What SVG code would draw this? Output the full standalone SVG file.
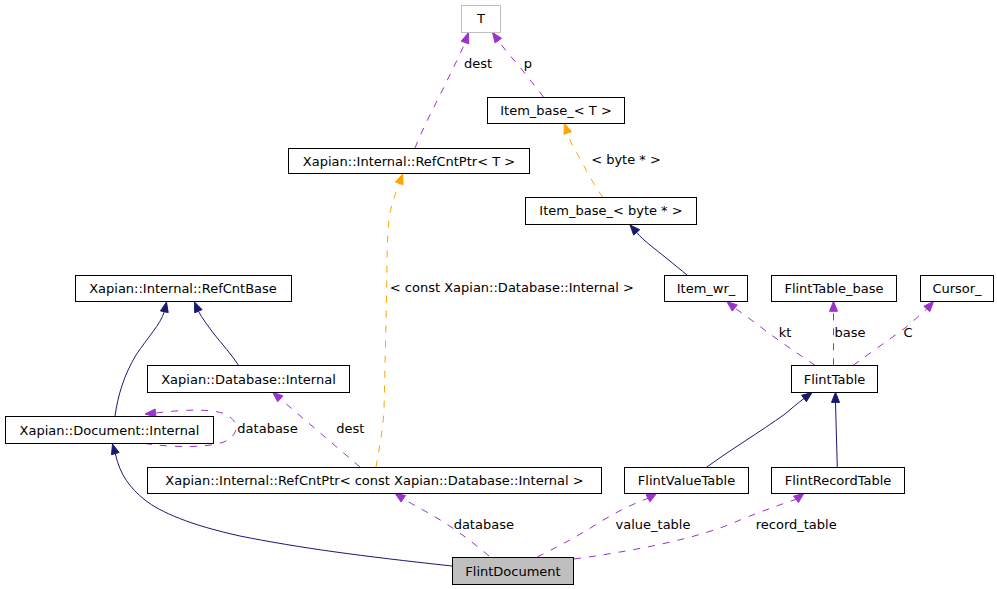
<svg xmlns="http://www.w3.org/2000/svg" width="997" height="589" viewBox="0 0 997 589">
<style>
.box{fill:#ffffff;stroke:#000000;stroke-width:1}
.gray{fill:#ffffff;stroke:#bfbfbf;stroke-width:1}
.cur{fill:#bfbfbf;stroke:#000000;stroke-width:1}
text{font-family:"DejaVu Sans","Liberation Sans",sans-serif;font-size:13px;fill:#000000;text-anchor:middle}
.inh{fill:none;stroke:#191970;stroke-width:1}
.use{fill:none;stroke:#9a32cd;stroke-width:1;stroke-dasharray:7,8}
.tpl{fill:none;stroke:#ffa500;stroke-width:1;stroke-dasharray:7,8}
.ahi{fill:#191970;stroke:#191970}
.ahu{fill:#9a32cd;stroke:#9a32cd}
.aht{fill:#ffa500;stroke:#ffa500}
</style>
<rect width="997" height="589" fill="#ffffff"/>
<g id="connectors">
<!-- Document::Internal -> RefCntBase -->
<path class="inh" d="M115,416 C118,395 124,375 136,355 C148,337 160,325 164.3,311.75"/>
<polygon class="ahi" points="166.5,302 168.2,312.6 160.4,310.9"/>
<!-- Database::Internal -> RefCntBase -->
<path class="inh" d="M239,366 C232,355 222,344 214,334 C208,326 202,318 198.4,311.2"/>
<polygon class="ahi" points="194.5,302 202.1,309.6 194.7,312.8"/>
<!-- FlintDocument -> Document::Internal -->
<path class="inh" d="M452,566 C360,556 300,548 240,536 C190,525 160,512 145,500 C130,488 120,475 115.3,453.6"/>
<polygon class="ahi" points="112.5,444 119.1,452.5 111.5,454.7"/>
<!-- self loop database -->
<path class="use" d="M145,443.5 C175,448 215,448 228,440 C240,432 238,420 225,414 C210,408 180,410 155.5,413"/>
<polygon class="ahu" points="145,414 155.9,417 155.1,409"/>
<text x="267.5" y="432.5">database</text>
<!-- RefCntPtr<const> -> Database::Internal dest -->
<path class="use" d="M360,467 L280.3,398.8"/>
<polygon class="ahu" points="272.7,392.3 282.9,395.8 277.7,401.8"/>
<text x="350.3" y="432.5">dest</text>
<!-- RefCntPtr<const> -> RefCntPtr<T> template -->
<path class="tpl" d="M376,467 C379,450 383,430 384,410 L386.5,300 C387,260 387,230 390,213 C392,203 395,195 399.3,183.4"/>
<polygon class="aht" points="402.7,174 403.1,184.8 395.5,182"/>
<text x="511.8" y="291.5">&lt; const Xapian::Database::Internal &gt;</text>
<!-- RefCntPtr<T> -> T dest -->
<path class="use" d="M415,148 C422,130 435,105 445,85 C453,68 460,55 465,42.5"/>
<polygon class="ahu" points="468.5,32.5 468.8,43.8 461.2,41.2"/>
<text x="478" y="67.5">dest</text>
<!-- Item_base_<T> -> T p -->
<path class="use" d="M543.5,97 C537,88 528,78 520,67 C512,58 505,50 498.3,40.6"/>
<polygon class="ahu" points="492.5,32.5 501.5,38.3 495.1,42.9"/>
<text x="528" y="67.5">p</text>
<!-- Item_base_<byte*> -> Item_base_<T> -->
<path class="tpl" d="M602.7,197.3 C596,187 588,175 582,162 C576,152 570,142 567.7,133"/>
<polygon class="aht" points="564.5,123.5 571.5,131.7 563.9,134.3"/>
<text x="626" y="164">&lt; byte * &gt;</text>
<!-- Item_wr_ -> Item_base_<byte*> -->
<path class="inh" d="M687.3,275.3 C675,265 660,253 650,245 C645,241 640,236.5 636.7,232.4"/>
<polygon class="ahi" points="630,225 639.7,229.7 633.7,235.1"/>
<!-- FlintTable -> Item_wr_ kt -->
<path class="use" d="M815,365.3 C800,355 785,345 770,334 C758,325 745,315 734.75,308"/>
<polygon class="ahu" points="727,301.7 737.3,304.9 732.2,311.1"/>
<text x="785" y="336.5">kt</text>
<!-- FlintTable -> FlintTable_base base -->
<path class="use" d="M833.5,365.3 L833.5,311.3"/>
<polygon class="ahu" points="833.5,301.3 837.5,311.3 829.5,311.3"/>
<text x="850" y="336.5">base</text>
<!-- FlintTable -> Cursor_ C -->
<path class="use" d="M853.3,365.3 C870,353 890,339 905,328 C913,321 920,315 926.8,308.9"/>
<polygon class="ahu" points="933.5,301.5 929.8,311.6 923.8,306.2"/>
<text x="908" y="336.5">C</text>
<!-- FlintValueTable -> FlintTable -->
<path class="inh" d="M706,467.7 C730,450 760,432 785,414 C792,408 798,403 804,398.5"/>
<polygon class="ahi" points="812,392.5 806.4,401.7 801.6,395.3"/>
<!-- FlintRecordTable -> FlintTable -->
<path class="inh" d="M837.3,467.7 L835.5,402.4"/>
<polygon class="ahi" points="835.5,392.3 839.5,402.4 831.5,402.4"/>
<!-- FlintDocument -> RefCntPtr<const> database -->
<path class="use" d="M489,556 C470,540 450,525 430,514 C420,508 410,503 403.3,498.8"/>
<polygon class="ahu" points="395,493.3 405.5,495.5 401.1,502.1"/>
<text x="483.8" y="528.5">database</text>
<!-- FlintDocument -> FlintValueTable value_table -->
<path class="use" d="M537.3,557 C555,548 575,538 600,522 C615,513 630,505 648,498.3"/>
<polygon class="ahu" points="656.7,493.3 650,501.8 646,494.8"/>
<text x="653" y="528.5">value_table</text>
<!-- FlintDocument -> FlintRecordTable record_table -->
<path class="use" d="M574,559 C640,550 700,538 740,520 C765,510 782,504 796,499.3"/>
<polygon class="ahu" points="804,493.3 798.4,502.5 793.6,496.1"/>
<text x="796.2" y="528.5">record_table</text>
</g>
<g id="n_T"><rect class="gray" x="461.5" y="5.5" width="39" height="27"/><text x="481" y="23">T</text></g>
<g id="n_ItemBaseT"><rect class="box" x="487.5" y="97.5" width="137" height="26"/><text x="556" y="115">Item_base_&lt; T &gt;</text></g>
<g id="n_RefCntPtrT"><rect class="box" x="288.5" y="148.5" width="241" height="25"/><text x="409" y="165.5">Xapian::Internal::RefCntPtr&lt; T &gt;</text></g>
<g id="n_ItemBaseByte"><rect class="box" x="525.5" y="197.5" width="171" height="27"/><text x="611" y="215">Item_base_&lt; byte * &gt;</text></g>
<g id="n_RefCntBase"><rect class="box" x="75.5" y="275.5" width="216" height="26"/><text x="183" y="293">Xapian::Internal::RefCntBase</text></g>
<g id="n_ItemWr"><rect class="box" x="664.5" y="275.5" width="83" height="26"/><text x="706" y="293">Item_wr_</text></g>
<g id="n_FlintTableBase"><rect class="box" x="771.5" y="275.5" width="125" height="26"/><text x="834" y="293">FlintTable_base</text></g>
<g id="n_Cursor"><rect class="box" x="920.5" y="275.5" width="73" height="26"/><text x="957" y="293">Cursor_</text></g>
<g id="n_DatabaseInternal"><rect class="box" x="147.5" y="365.5" width="202" height="27"/><text x="248.5" y="383.5">Xapian::Database::Internal</text></g>
<g id="n_FlintTable"><rect class="box" x="791.5" y="365.5" width="86" height="27"/><text x="834.5" y="383.5">FlintTable</text></g>
<g id="n_DocumentInternal"><rect class="box" x="5.5" y="416.5" width="208" height="27"/><text x="109.5" y="434.5">Xapian::Document::Internal</text></g>
<g id="n_RefCntPtrConst"><rect class="box" x="147.5" y="467.5" width="454" height="26"/><text x="374.5" y="485">Xapian::Internal::RefCntPtr&lt; const Xapian::Database::Internal &gt;</text></g>
<g id="n_FlintValueTable"><rect class="box" x="624.5" y="467.5" width="124" height="26"/><text x="686.5" y="485">FlintValueTable</text></g>
<g id="n_FlintRecordTable"><rect class="box" x="771.5" y="467.5" width="133" height="26"/><text x="838" y="485">FlintRecordTable</text></g>
<g id="n_FlintDocument"><rect class="cur" x="452.5" y="557.5" width="121" height="27"/><text x="513" y="575.5">FlintDocument</text></g>
</svg>
